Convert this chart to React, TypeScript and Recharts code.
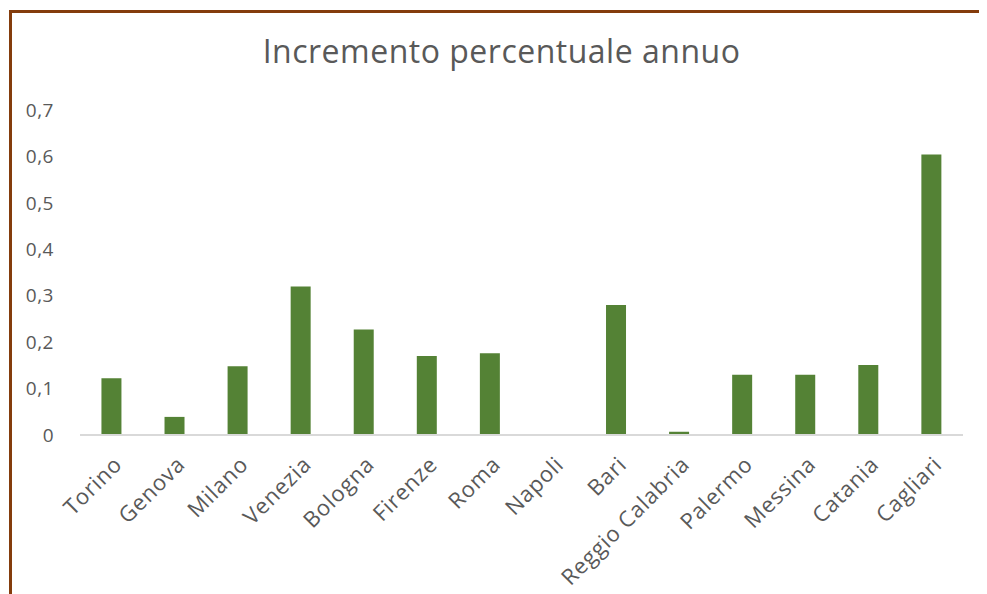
import { BarChart, Bar, XAxis, YAxis } from "recharts";

const cities = [
  "Torino",
  "Genova",
  "Milano",
  "Venezia",
  "Bologna",
  "Firenze",
  "Roma",
  "Napoli",
  "Bari",
  "Reggio Calabria",
  "Palermo",
  "Messina",
  "Catania",
  "Cagliari",
];

const increments = [
  0.122, 0.039, 0.148, 0.32, 0.227, 0.17, 0.176, 0, 0.28, 0.007, 0.13, 0.13,
  0.151, 0.604,
];

const yTicks = [0, 0.1, 0.2, 0.3, 0.4, 0.5, 0.6, 0.7];

const data = cities.map((name, i) => ({ name, value: increments[i] }));

const FONT = "'Open Sans', sans-serif";
const TEXT = "#595959";

const CityTick = ({ x, y, payload }: any) => (
  <g transform={`translate(${x + 1},${y + 12})`}>
    <text
      transform="rotate(-45)"
      textAnchor="end"
      dy="0.7em"
      fill={TEXT}
      fontSize={22}
      letterSpacing={0.8}
      fontFamily={FONT}
    >
      {payload.value}
    </text>
  </g>
);

export default function App() {
  return (
    <div style={{ position: "relative", width: 979, height: 586 }}>
      <div
        style={{
          position: "absolute",
          left: 1,
          top: 2,
          width: 978,
          height: 600,
          borderTop: "3px solid #843c0c",
          borderLeft: "3px solid #843c0c",
          boxSizing: "border-box",
        }}
      />
      <div
        style={{
          position: "absolute",
          left: 0,
          top: 23,
          width: 987,
          textAlign: "center",
          fontFamily: FONT,
          fontSize: 32,
          letterSpacing: 0.5,
          color: TEXT,
          lineHeight: "40px",
        }}
      >
        Incremento percentuale annuo
      </div>
      <div style={{ position: "absolute", left: 0, top: 0 }}>
        <BarChart
          width={979}
          height={586}
          data={data}
          margin={{ top: 102, right: 24, bottom: 0, left: 0 }}
          barCategoryGap="34%"
        >
          <XAxis
            dataKey="name"
            interval={0}
            height={159}
            tickLine={false}
            axisLine={{ stroke: "#d9d9d9", strokeWidth: 2 }}
            tick={<CityTick />}
          />
          <YAxis
            width={72}
            domain={[0, 0.7]}
            ticks={yTicks}
            axisLine={false}
            tickLine={false}
            tickFormatter={(v: number) => String(v).replace(".", ",")}
            tick={{
              fill: TEXT,
              fontSize: 19,
              fontFamily: FONT,
              letterSpacing: 0.5,
              dx: -18,
            }}
          />
          <Bar dataKey="value" fill="#548235" isAnimationActive={false} />
        </BarChart>
      </div>
    </div>
  );
}
